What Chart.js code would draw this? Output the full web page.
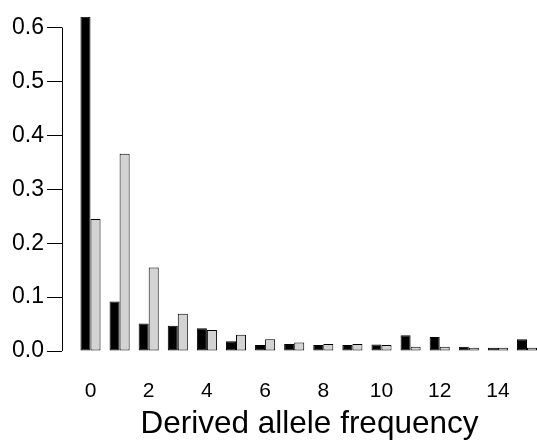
<!DOCTYPE html>
<html>
<head>
<meta charset="utf-8">
<script src="https://cdn.jsdelivr.net/npm/chart.js@4/dist/chart.umd.min.js"></script>
<style>
html,body{margin:0;padding:0;background:#fff;}
canvas{display:block;}
</style>
</head>
<body>
<canvas id="c" width="537" height="443"></canvas>
<script>
const categories = [0,1,2,3,4,5,6,7,8,9,10,11,12,13,14,15];
const seriesBlack = [0.620,0.092,0.051,0.047,0.042,0.018,0.011,0.013,0.011,0.011,0.012,0.029,0.026,0.008,0.006,0.022];
const seriesGrey  = [0.245,0.366,0.155,0.069,0.039,0.030,0.022,0.016,0.013,0.013,0.011,0.008,0.008,0.006,0.006,0.006];
const xTickValues = [0,2,4,6,8,10,12,14];
const yTickValues = [0,0.1,0.2,0.3,0.4,0.5,0.6];
const xTitle = 'Derived allele frequency';

const FONT = '"Liberation Sans", Arial, Helvetica, sans-serif';

// The original plot region extends past the right edge of the image;
// widen the x scale so its centre (and the axis title) sits where it did.
const extendPlotRight = {
  id: 'extendPlotRight',
  afterLayout(chart) {
    const x = chart.scales.x;
    x.right = x.right + 20;
    x.width = x.right - x.left;
    x.configure();
  }
};

const yAxisLine = {
  id: 'yAxisLine',
  afterDraw(chart) {
    const y = chart.scales.y;
    const ctx = chart.ctx;
    const x = Math.round(chart.chartArea.left) + 0.5;
    ctx.save();
    ctx.strokeStyle = '#000';
    ctx.lineWidth = 1;
    ctx.beginPath();
    ctx.moveTo(x, y.getPixelForValue(yTickValues[0]));
    ctx.lineTo(x, y.getPixelForValue(yTickValues[yTickValues.length-1]));
    ctx.stroke();
    ctx.restore();
  }
};

new Chart(document.getElementById('c'), {
  type: 'bar',
  data: {
    datasets: [
      {
        data: categories.map((c,i)=>({x:c, y:seriesBlack[i]})),
        backgroundColor: '#000000',
        borderColor: '#000000',
        borderWidth: 1,
        borderSkipped: false
      },
      {
        data: categories.map((c,i)=>({x:c, y:seriesGrey[i]})),
        backgroundColor: '#d3d3d3',
        borderColor: '#000000',
        borderWidth: 1,
        borderSkipped: false
      }
    ]
  },
  options: {
    responsive: false,
    maintainAspectRatio: false,
    animation: false,
    categoryPercentage: 0.69,
    barPercentage: 1.0,
    layout: { padding: { top: 14, right: 0, left: 0, bottom: 0 } },
    plugins: { legend: { display: false }, tooltip: { enabled: false } },
    scales: {
      x: {
        type: 'linear',
        offset: false,
        min: -0.979,
        max: 16.031,
        grid: { display: false, offset: false },
        border: { display: false },
        afterBuildTicks: s => { s.ticks = xTickValues.map(v => ({ value: v })); },
        afterFit: s => { s.height = 92; },
        ticks: {
          color: '#000',
          font: { family: FONT, size: 21 },
          padding: 20,
          maxRotation: 0,
          autoSkip: false,
          callback: v => String(v)
        },
        title: {
          display: true,
          text: xTitle,
          color: '#000',
          font: { family: FONT, size: 31.5 },
          padding: { top: 0, bottom: 0 }
        }
      },
      y: {
        min: 0,
        max: 0.62,
        grid: { drawOnChartArea: false, drawTicks: true, tickLength: 15, color: '#000', lineWidth: 1 },
        border: { display: false },
        afterBuildTicks: s => { s.ticks = yTickValues.map(v => ({ value: v })); },
        afterFit: s => { s.width = 62; },
        ticks: {
          color: '#000',
          font: { family: FONT, size: 23 },
          padding: 3,
          callback: v => Number(v).toFixed(1)
        }
      }
    }
  },
  plugins: [extendPlotRight, yAxisLine]
});
</script>
</body>
</html>
